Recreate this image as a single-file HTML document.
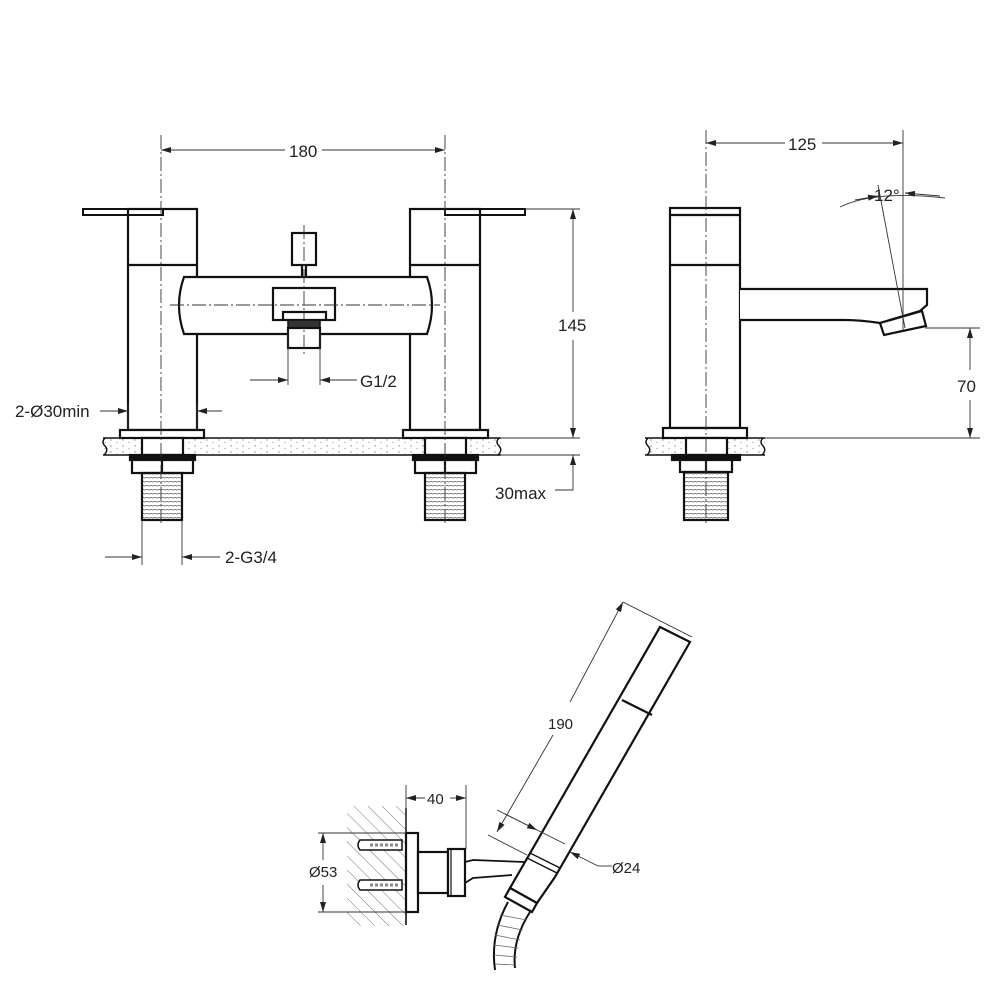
<!DOCTYPE html>
<html><head><style>
html,body{margin:0;padding:0;background:#fff}
svg{display:block}
text{font-family:"Liberation Sans",Arial,sans-serif;font-size:17px;fill:#222}
</style></head><body>
<svg width="1000" height="1000" viewBox="0 0 1000 1000" xmlns="http://www.w3.org/2000/svg">
<defs>
<marker id="a" viewBox="0 0 10 6" refX="10" refY="3" markerWidth="10" markerHeight="6" orient="auto-start-reverse" markerUnits="userSpaceOnUse"><path d="M0,0 L10,3 L0,6 z" fill="#222"/></marker>
<pattern id="h" width="10" height="10" patternUnits="userSpaceOnUse" patternTransform="rotate(-45)"><line x1="0" y1="0" x2="0" y2="10" stroke="#777" stroke-width="1"/></pattern>
<pattern id="dots" width="12" height="6" patternUnits="userSpaceOnUse"><circle cx="3" cy="2" r="0.7" fill="#888"/><circle cx="9" cy="4.5" r="0.6" fill="#999"/></pattern>
<pattern id="thr" width="4" height="4" patternUnits="userSpaceOnUse"><line x1="0" y1="2" x2="4" y2="1.5" stroke="#555" stroke-width="0.8"/></pattern>
</defs>
<g fill="none" stroke="#111" stroke-width="2.2">
<rect x="103" y="438" width="398" height="17" fill="url(#dots)" stroke="none"/>
<line x1="103" y1="438" x2="501" y2="438" stroke-width="1.4"/><line x1="103" y1="455" x2="501" y2="455" stroke-width="1.4"/>
<path d="M105,438 q-4,4 0,8 q4,4 -1,9 M499,438 q-4,4 0,8 q4,4 -1,9" stroke-width="1.4"/>
<path d="M83,209 H163 V215 H83 Z" stroke-width="2"/>
<rect x="128" y="209" width="69" height="221"/>
<line x1="128" y1="265" x2="197" y2="265"/>
<rect x="120" y="430" width="84" height="8" fill="#fff"/>
<rect x="142" y="438" width="41" height="17" fill="#fff"/>
<rect x="130" y="455" width="65" height="5" fill="#111"/>
<rect x="132" y="460" width="61" height="13" fill="#fff"/><line x1="162" y1="460" x2="162" y2="473"/>
<rect x="142" y="473" width="40" height="47" fill="url(#thr)"/>
<path d="M445,209 H525 V215 H445 Z" stroke-width="2"/>
<rect x="410" y="209" width="70" height="221"/>
<line x1="410" y1="265" x2="480" y2="265"/>
<rect x="403" y="430" width="85" height="8" fill="#fff"/>
<rect x="425" y="438" width="41" height="17" fill="#fff"/>
<rect x="413" y="455" width="65" height="5" fill="#111"/>
<rect x="415" y="460" width="61" height="13" fill="#fff"/><line x1="445" y1="460" x2="445" y2="473"/>
<rect x="425" y="473" width="40" height="47" fill="url(#thr)"/>
<path d="M184,277 H427 Q437,305 427,334 H184 Q174,305 184,277 Z" fill="#fff"/>
<rect x="292" y="233" width="24" height="32"/>
<line x1="302" y1="265" x2="302" y2="277"/><line x1="306" y1="265" x2="306" y2="277"/>
<rect x="273" y="288" width="62" height="32" fill="#fff"/>
<path d="M283,320 V312 H326 V320" />
<rect x="288" y="320" width="32" height="8" fill="#333" stroke-width="1.5"/>
<rect x="288" y="328" width="32" height="20" fill="#fff"/>
<rect x="645" y="438" width="120" height="17" fill="url(#dots)" stroke="none"/>
<line x1="645" y1="438" x2="765" y2="438" stroke-width="1.4"/><line x1="645" y1="455" x2="765" y2="455" stroke-width="1.4"/>
<path d="M648,438 q-4,4 0,8 q4,4 -1,9 M763,438 q-4,4 0,8 q4,4 -1,9" stroke-width="1.4"/>
<rect x="670" y="208" width="70" height="220"/>
<line x1="670" y1="215" x2="740" y2="215"/><line x1="670" y1="265" x2="740" y2="265"/>
<path d="M740,289 H927 V305 L920,311 L880,323 Q860,320 845,320 H740" fill="#fff"/>
<path d="M880,323 L922,311 L926,326 L884,335 Z" fill="#fff"/>
<rect x="663" y="428" width="84" height="10" fill="#fff"/>
<rect x="686" y="438" width="41" height="17" fill="#fff"/>
<rect x="672" y="455" width="68" height="5" fill="#111"/>
<rect x="680" y="460" width="52" height="12" fill="#fff"/><line x1="706" y1="460" x2="706" y2="472"/>
<rect x="684" y="472" width="44" height="48" fill="url(#thr)"/>
<rect x="347" y="806" width="59" height="120" fill="url(#h)" stroke="none"/>
<line x1="406" y1="808" x2="406" y2="925" stroke-width="1.6"/>
<rect x="406" y="833" width="12" height="79" fill="#fff"/>
<rect x="418" y="852" width="30" height="41" fill="#fff"/>
<rect x="448" y="849" width="17" height="47" fill="#fff"/><line x1="451" y1="849" x2="451" y2="896" stroke-width="1.2"/>
<path d="M360,840 H402 V850 H360 Q356,845 360,840 Z M360,880 H402 V890 H360 Q356,885 360,880 Z" fill="#fff" stroke-width="1.5"/>
<line x1="370" y1="845" x2="400" y2="845" stroke="#888" stroke-dasharray="3 2" stroke-width="3"/>
<line x1="370" y1="885" x2="400" y2="885" stroke="#888" stroke-dasharray="3 2" stroke-width="3"/>
<path d="M465,862 L473,860 L525,862 M465,883 L473,878 L512,875" stroke-width="1.8"/>
<path d="M525,862 L660,627 L690,642 L555,877" fill="#fff"/>
<line x1="622" y1="700" x2="652" y2="715"/>
<line x1="530" y1="853" x2="560" y2="868" stroke-width="1.4"/>
<line x1="527" y1="858" x2="557" y2="873" stroke-width="1.4"/>
<path d="M525,862 L510,888 L537,903 L555,877" />
<path d="M510,888 L505,897 L532,912 L537,903 Z" fill="#fff"/>
<path d="M508,902 Q490,935 495,970 M530,912 Q512,940 515,968" stroke-width="2"/>
<path d="M500,915 L527,920 M497,925 L523,930 M495,935 L520,940 M494,945 L518,948 M494,955 L517,957 M495,964 L515,965" stroke="#666" stroke-width="0.8"/>
</g>
<g stroke="#333" stroke-width="0.9" fill="none">
<line x1="161" y1="135" x2="161" y2="525" stroke-dasharray="14 3 2 3"/>
<line x1="445" y1="135" x2="445" y2="525" stroke-dasharray="14 3 2 3"/>
<line x1="706" y1="130" x2="706" y2="525" stroke-dasharray="14 3 2 3"/>
<line x1="903" y1="130" x2="903" y2="330"/>
<line x1="170" y1="305" x2="440" y2="305" stroke-dasharray="14 3 2 3"/>
<line x1="304" y1="225" x2="304" y2="355" stroke-dasharray="14 3 2 3"/>
<line x1="161" y1="150" x2="285" y2="150" marker-start="url(#a)"/><line x1="322" y1="150" x2="445" y2="150" marker-end="url(#a)"/>
<line x1="525" y1="209" x2="580" y2="209"/><line x1="500" y1="438" x2="580" y2="438"/><line x1="500" y1="455" x2="580" y2="455"/>
<line x1="573" y1="209" x2="573" y2="312" marker-start="url(#a)"/><line x1="573" y1="340" x2="573" y2="438" marker-end="url(#a)"/>
<path d="M573,455 V490 H555" marker-start="url(#a)"/>
<line x1="288" y1="330" x2="288" y2="385"/><line x1="320" y1="330" x2="320" y2="385"/>
<line x1="250" y1="380" x2="288" y2="380" marker-end="url(#a)"/><line x1="357" y1="380" x2="320" y2="380" marker-end="url(#a)"/>
<line x1="128" y1="403" x2="128" y2="430"/><line x1="197" y1="403" x2="197" y2="430"/>
<line x1="100" y1="411" x2="128" y2="411" marker-end="url(#a)"/><line x1="222" y1="411" x2="197" y2="411" marker-end="url(#a)"/>
<line x1="142" y1="520" x2="142" y2="565"/><line x1="182" y1="520" x2="182" y2="565"/>
<line x1="105" y1="557" x2="142" y2="557" marker-end="url(#a)"/><line x1="220" y1="557" x2="182" y2="557" marker-end="url(#a)"/>
<line x1="706" y1="143" x2="785" y2="143" marker-start="url(#a)"/><line x1="822" y1="143" x2="903" y2="143" marker-end="url(#a)"/>
<path d="M840,207 Q875,190 945,198" />
<line x1="855" y1="200" x2="878" y2="196" marker-end="url(#a)"/><line x1="940" y1="196" x2="905" y2="193" marker-end="url(#a)"/>
<line x1="878" y1="185" x2="905" y2="328"/>
<line x1="925" y1="328" x2="980" y2="328"/><line x1="765" y1="438" x2="980" y2="438"/>
<line x1="970" y1="328" x2="970" y2="370" marker-start="url(#a)"/><line x1="970" y1="400" x2="970" y2="438" marker-end="url(#a)"/>
<line x1="406" y1="785" x2="406" y2="833"/><line x1="466" y1="785" x2="466" y2="849"/>
<line x1="406" y1="798" x2="425" y2="798" marker-start="url(#a)"/><line x1="450" y1="798" x2="466" y2="798" marker-end="url(#a)"/>
<line x1="318" y1="833" x2="406" y2="833"/><line x1="318" y1="912" x2="406" y2="912"/>
<line x1="323" y1="833" x2="323" y2="860" marker-start="url(#a)"/><line x1="323" y1="885" x2="323" y2="912" marker-end="url(#a)"/>
<line x1="623" y1="602" x2="692" y2="637"/><line x1="488" y1="835" x2="527" y2="855"/>
<line x1="623" y1="602" x2="570" y2="702" marker-start="url(#a)"/><line x1="553" y1="735" x2="497" y2="832" marker-end="url(#a)"/>
<line x1="517" y1="820" x2="565" y2="844"/><line x1="517" y1="820" x2="497" y2="810"/>
<line x1="505" y1="814" x2="537" y2="830" marker-end="url(#a)"/><line x1="598" y1="866" x2="570" y2="852" marker-end="url(#a)"/>
<line x1="598" y1="866" x2="612" y2="866"/>
</g>
<text x="289" y="157">180</text>
<text x="788" y="150">125</text>
<text x="874" y="201">12°</text>
<text x="558" y="331">145</text>
<text x="957" y="392">70</text>
<text x="360" y="387">G1/2</text>
<text x="15" y="417">2-Ø30min</text>
<text x="495" y="499">30max</text>
<text x="225" y="563">2-G3/4</text>
<text x="548" y="729" style="font-size:15px">190</text>
<text x="427" y="804" style="font-size:15px">40</text>
<text x="309" y="877" style="font-size:15px">Ø53</text>
<text x="612" y="873" style="font-size:15px">Ø24</text>
</svg>
</body></html>
